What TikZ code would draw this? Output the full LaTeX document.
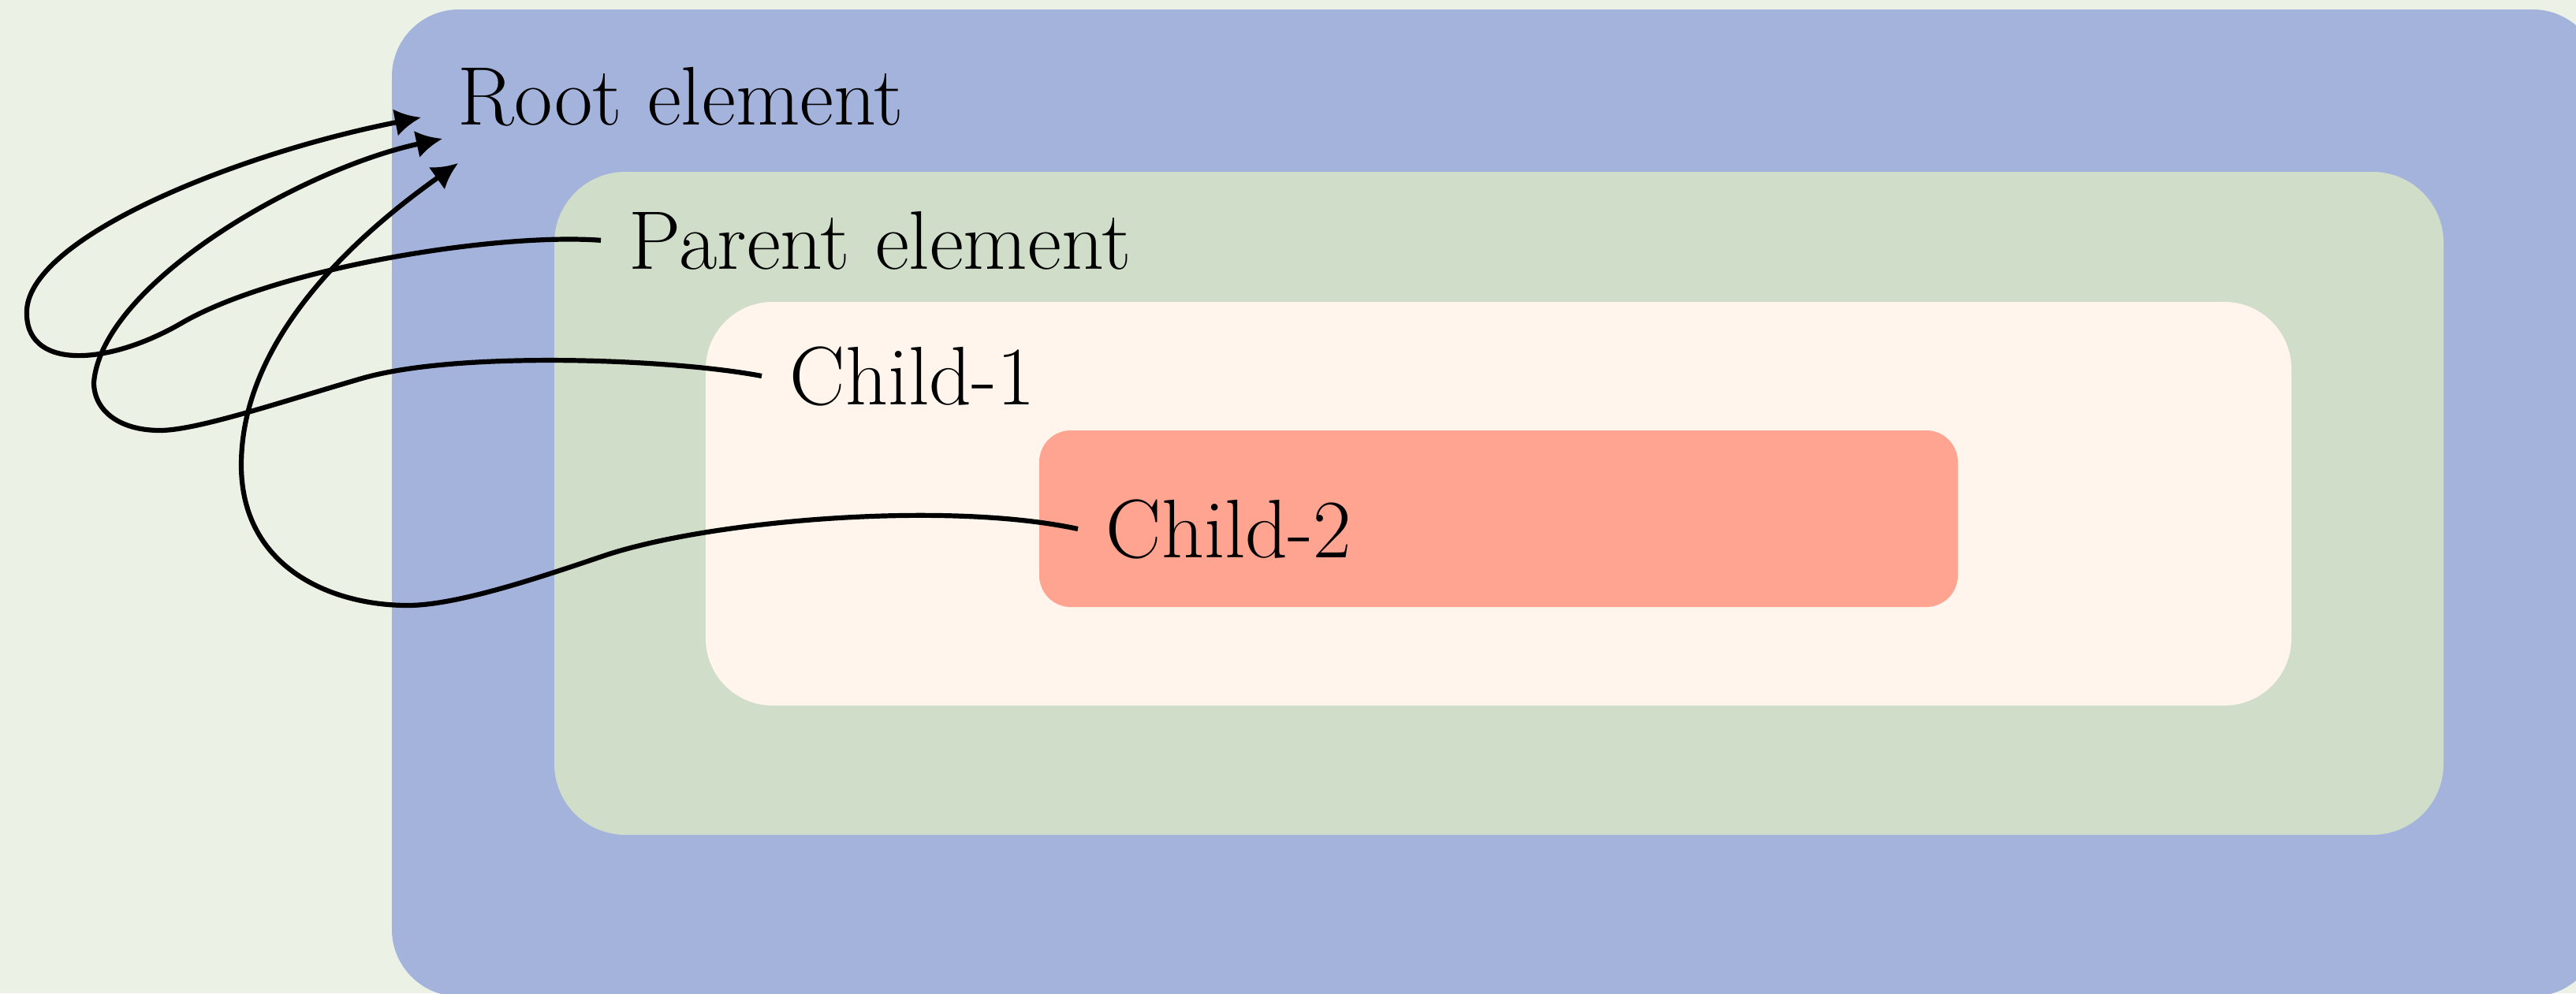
\documentclass[tikz,border=0pt]{standalone}
\usepackage{tikz}
\usepackage{xcolor}
\usetikzlibrary{arrows.meta}
\definecolor{bgcol}{RGB}{236,241,230}
\definecolor{rootcol}{RGB}{163,179,219}
\definecolor{parentcol}{RGB}{208,221,201}
\definecolor{childonecol}{RGB}{255,245,236}
\definecolor{childtwocol}{RGB}{255,164,144}
\tikzset{>={Latex[length=3.3mm,width=3.5mm]}}

\begin{document}
\begin{tikzpicture}[
	lbl/.style={anchor=base west, inner sep=0pt, inner xsep=3.5mm, font=\fontsize{30}{36}\selectfont},
	link/.style={->, line width=0.62mm},
	box/.style={rounded corners=#1}
	]
	\useasboundingbox (0,0) rectangle (32.67,-12.6);
	\clip (0,0) rectangle (32.67,-12.6);
	\fill[bgcol] (0,0) rectangle (32.67,-12.6); %page

	% Nested boxes, outermost first
	\fill[rootcol, box=0.85cm] (4.97,-0.12) rectangle (32.97,-12.64); %root
	\fill[parentcol, box=0.9cm] (7.03,-2.18) rectangle (30.99,-10.59); %parent
	\fill[childonecol, box=0.85cm] (8.95,-3.83) rectangle (29.06,-8.95); %child 1
	\fill[childtwocol, box=0.4cm] (13.18,-5.46) rectangle (24.83,-7.70); %child 2

	% Labels
	\node[lbl] (root) at (5.45,-1.58) {Root element};
	\node[lbl] (parent) at (7.62,-3.41) {Parent element};
	\node[lbl] (childone) at (9.66,-5.13) {Child-1};
	\node[lbl] (childtwo) at (13.67,-7.07) {Child-2};

	% Arrow tips next to the root label
	\coordinate (tip1) at (5.34,-1.49); %from parent
	\coordinate (tip2) at (5.61,-1.76); %from child 1
	\coordinate (tip3) at (5.81,-2.07); %from child 2

	% Drawing the links
	\draw[link] (parent.west) .. controls (6.30,-2.95) and (3.50,-3.40) .. (2.30,-4.10)
		.. controls (1.35,-4.65) and (0.30,-4.70) .. (0.34,-3.93)
		.. controls (0.40,-3.00) and (3.00,-1.95) .. (tip1);
	\draw[link] (childone.west) .. controls (8.50,-4.55) and (5.80,-4.45) .. (4.59,-4.80)
		.. controls (3.59,-5.09) and (2.50,-5.46) .. (2.03,-5.46)
		.. controls (1.50,-5.46) and (1.19,-5.20) .. (1.19,-4.85)
		.. controls (1.30,-3.60) and (3.80,-2.15) .. (tip2);
	\draw[link] (childtwo.west) .. controls (12.00,-6.35) and (9.00,-6.60) .. (7.66,-7.05)
		.. controls (6.86,-7.32) and (5.80,-7.68) .. (5.17,-7.68)
		.. controls (4.20,-7.68) and (3.06,-7.20) .. (3.06,-5.90)
		.. controls (3.06,-4.30) and (4.50,-3.00) .. (tip3);
\end{tikzpicture}
\end{document}
